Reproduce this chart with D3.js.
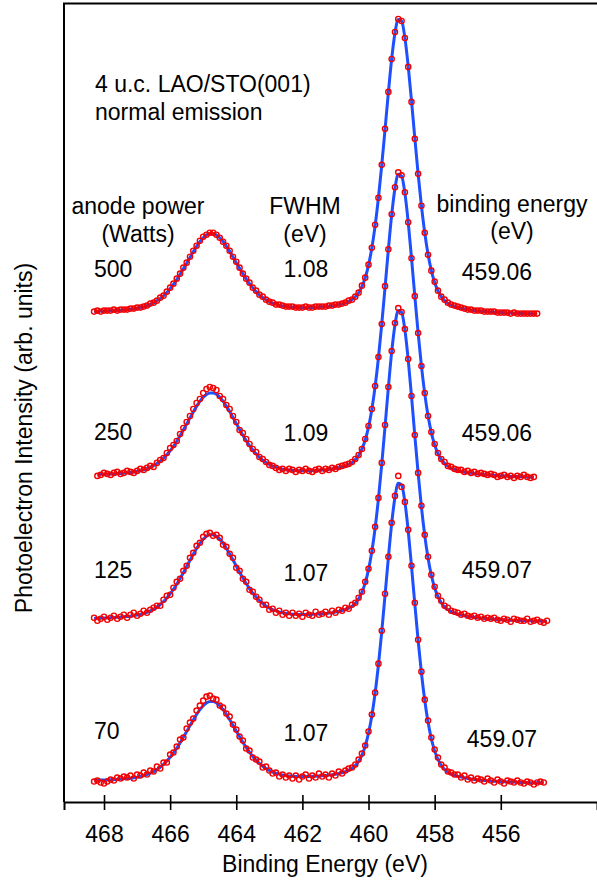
<!DOCTYPE html>
<html>
<head>
<meta charset="utf-8">
<title>Ti 2p core level vs anode power</title>
<script src="https://cdn.jsdelivr.net/npm/d3@7"></script>
<style>
  html, body { margin: 0; padding: 0; background: #fff; }
  svg { display: block; }
  text { font-family: "Liberation Sans", Arial, Helvetica, sans-serif; fill: #000; }
</style>
</head>
<body>
<svg id="chart" width="597" height="884"></svg>
<script>
// Ti 2p spectra of 4 u.c. LaAlO3 on SrTiO3(001), normal emission,
// recorded at four X-ray anode powers. Intensities in arbitrary units,
// sampled every 0.1 eV starting from startEnergy.

const anodePower    = ["500", "250", "125", "70"];
const fwhmValues    = ["1.08", "1.09", "1.07", "1.07"];
const bindingEnergy = ["459.06", "459.06", "459.07", "459.07"];
const startEnergy   = [468.3, 468.2, 468.3, 468.3];
const energyStep    = 0.1;
// vertical stacking offset of each spectrum (arb. units)
const stackOffset   = [487, 323.5, 179.5, 17.5];

const xTickValues = [468, 466, 464, 462, 460, 458, 456];

// measured intensities
const counts500 = [
  4,5,4,5,5,5,6,5,6,6,
  6,7,7,8,8,9,10,12,13,15,
  18,20,24,28,32,37,42,48,53,59,
  65,70,75,79,81,83,83,81,78,74,
  70,65,59,54,48,42,37,33,28,25,
  21,19,16,14,13,11,11,10,9,9,
  9,8,8,8,9,8,8,9,9,9,
  9,10,10,11,11,12,13,15,16,19,
  23,30,38,51,68,91,118,151,187,224,
  257,284,297,295,278,249,214,177,142,110,
  83,61,45,34,25,19,16,13,11,10,
  9,8,7,6,6,5,5,5,4,4,
  4,4,3,3,3,3,2,3,2,2,
  2,2,2,2,2
];
const counts250 = [
  3,4,6,5,4,6,7,5,6,8,
  7,6,8,10,9,11,13,12,16,19,
  21,26,31,34,38,45,51,57,63,70,
  76,80,86,90,92,91,89,83,80,74,
  70,63,57,49,46,40,35,30,27,22,
  20,17,14,13,11,9,10,8,10,9,
  7,9,8,10,8,7,9,10,8,10,
  9,11,10,12,13,14,15,17,20,24,
  30,40,53,70,93,122,155,193,230,265,
  292,307,304,287,257,221,183,146,113,86,
  63,47,35,26,20,17,13,12,10,9,
  9,7,8,6,7,5,6,5,4,5,
  4,2,3,4,2,3,1,3,2,4,
  2,1,2
];
const counts125 = [
  5,2,4,6,3,5,7,4,6,8,
  5,8,10,7,9,12,10,13,15,17,
  17,23,27,28,35,41,44,52,57,65,
  70,77,80,86,89,90,87,88,85,78,
  76,69,65,55,52,44,41,33,31,26,
  23,18,18,13,14,10,12,8,10,7,
  10,7,9,6,10,8,7,11,8,9,
  11,8,12,10,13,12,15,14,18,20,
  25,31,41,54,72,96,125,160,198,236,
  272,300,315,311,294,264,227,188,150,117,
  88,66,48,36,27,22,17,15,12,11,
  10,8,9,7,6,7,5,6,4,5,
  4,5,3,2,4,3,1,4,3,2,
  2,4,1,2,3,1,0,2
];
const counts70 = [
  3,4,2,1,3,5,4,7,6,8,
  7,9,6,10,9,12,10,14,13,18,
  16,22,22,30,32,38,45,47,56,62,
  66,74,79,84,88,89,86,85,79,77,
  71,68,60,55,48,44,36,34,27,25,
  23,17,18,14,11,12,8,10,7,9,
  6,9,5,8,10,6,9,7,11,8,
  10,7,11,9,13,11,14,16,17,20,
  25,31,39,53,70,92,121,154,191,228,
  262,289,309,298,283,255,219,182,145,113,
  85,64,47,35,27,20,17,13,12,10,
  10,7,9,5,7,4,6,5,3,6,
  4,2,5,3,1,4,3,2,4,2,
  1,3,2,0,2,3,2
];

// fitted curves (two Voigt components plus background), same sampling
const fit500 = [
  4.3,4.4,4.5,4.6,4.7,4.9,5.0,5.2,5.4,5.6,
  5.9,6.3,6.7,7.3,7.9,8.8,9.9,11.2,12.8,14.8,
  17.1,19.9,23.2,27.0,31.3,36.1,41.3,46.8,52.5,58.3,
  64.0,69.3,74.0,77.9,80.7,82.1,82.1,80.8,78.0,74.2,
  69.6,64.3,58.6,52.9,47.3,41.8,36.7,32.0,27.8,24.1,
  20.8,18.1,15.8,13.9,12.4,11.2,10.3,9.5,9.0,8.6,
  8.3,8.1,8.0,7.9,8.0,8.0,8.1,8.3,8.4,8.7,
  9.0,9.3,9.8,10.3,10.9,11.7,12.7,14.1,16.0,18.8,
  22.9,29.1,37.9,50.6,67.7,90.1,118.0,150.6,186.6,223.3,
  257.0,283.0,296.6,294.9,278.1,249.9,214.9,177.8,142.0,109.9,
  83.0,61.4,45.1,33.2,24.8,19.0,15.1,12.4,10.5,9.2,
  8.2,7.3,6.6,6.1,5.5,5.1,4.7,4.4,4.1,3.8,
  3.6,3.3,3.1,3.0,2.8,2.6,2.5,2.3,2.2,2.1,
  2.0,1.9,1.8,1.7,1.7
];
const fit250 = [
  4.5,4.6,4.7,4.8,5.0,5.1,5.3,5.5,5.8,6.1,
  6.4,6.9,7.5,8.2,9.1,10.2,11.6,13.3,15.4,17.8,
  20.8,24.3,28.2,32.7,37.7,43.2,49.0,55.0,61.1,67.0,
  72.6,77.6,81.7,84.6,86.1,86.1,84.7,81.8,77.8,72.9,
  67.4,61.4,55.4,49.5,43.7,38.4,33.4,29.0,25.1,21.7,
  18.8,16.5,14.5,12.9,11.6,10.6,9.8,9.2,8.8,8.5,
  8.3,8.2,8.1,8.1,8.1,8.3,8.4,8.6,8.8,9.1,
  9.5,9.9,10.4,11.1,11.9,12.9,14.3,16.2,19.3,23.5,
  29.9,39.0,51.9,69.6,92.7,121.3,154.9,191.9,229.7,264.3,
  291.1,305.1,303.3,286.1,257.1,221.1,182.9,146.1,113.1,85.4,
  63.2,46.4,34.1,25.5,19.5,15.5,12.8,10.9,9.4,8.4,
  7.4,6.7,6.1,5.6,5.2,4.8,4.5,4.1,3.9,3.6,
  3.4,3.2,3.0,2.8,2.7,2.5,2.4,2.3,2.2,2.1,
  2.0,1.9,1.8
];
const fit125 = [
  4.4,4.5,4.6,4.7,4.9,5.0,5.2,5.4,5.6,5.9,
  6.2,6.5,7.0,7.6,8.3,9.2,10.4,11.8,13.5,15.7,
  18.2,21.2,24.8,28.9,33.5,38.6,44.2,50.1,56.3,62.5,
  68.6,74.3,79.4,83.6,86.5,88.1,88.1,86.6,83.7,79.6,
  74.6,68.9,62.9,56.7,50.6,44.7,39.2,34.2,29.7,25.7,
  22.2,19.2,16.8,14.7,13.1,11.8,10.8,10.0,9.4,8.9,
  8.6,8.4,8.3,8.2,8.3,8.3,8.4,8.6,8.7,9.0,
  9.3,9.7,10.1,10.7,11.3,12.1,13.2,14.7,16.6,19.6,
  24.0,30.5,39.9,53.2,71.3,94.9,124.3,158.8,196.7,235.4,
  270.9,298.3,312.7,310.8,293.2,263.4,226.6,187.4,149.7,115.9,
  87.5,64.8,47.5,35.0,26.1,20.0,15.9,13.1,11.1,9.6,
  8.5,7.6,6.9,6.3,5.8,5.4,4.9,4.6,4.3,4.0,
  3.7,3.5,3.3,3.1,2.9,2.7,2.6,2.4,2.3,2.2,
  2.1,2.0,1.9,1.8,1.8,1.7,1.6,1.6
];
const fit70 = [
  4.3,4.4,4.5,4.6,4.7,4.9,5.0,5.2,5.4,5.7,
  6.0,6.3,6.8,7.3,8.0,8.9,9.9,11.3,12.9,14.9,
  17.3,20.1,23.5,27.3,31.7,36.5,41.7,47.3,53.1,59.0,
  64.7,70.1,74.9,78.8,81.6,83.1,83.1,81.7,79.0,75.1,
  70.4,65.0,59.3,53.5,47.8,42.3,37.1,32.4,28.1,24.3,
  21.1,18.3,16.0,14.1,12.5,11.3,10.4,9.6,9.0,8.6,
  8.3,8.1,8.0,8.0,8.0,8.0,8.2,8.3,8.5,8.7,
  9.0,9.4,9.8,10.3,11.0,11.8,12.8,14.2,16.1,19.1,
  23.3,29.5,38.5,51.4,68.8,91.6,119.9,153.1,189.7,227.0,
  261.3,287.7,301.6,299.8,282.8,254.1,218.5,180.8,144.4,111.8,
  84.4,62.5,45.8,33.7,25.2,19.3,15.3,12.6,10.7,9.2,
  8.2,7.4,6.7,6.1,5.6,5.1,4.7,4.4,4.1,3.8,
  3.6,3.3,3.2,3.0,2.8,2.6,2.5,2.4,2.2,2.1,
  2.0,1.9,1.8,1.8,1.7,1.6,1.6
];

const countSeries = [counts500, counts250, counts125, counts70];
const fitSeries   = [fit500, fit250, fit125, fit70];

// ---- layout ----
const plot = { left: 64, right: 597, top: 3, bottom: 802 };
const fontSize = 23;
const dataColor = "#f50000";
const fitColor = "#1e50ff";

const svg = d3.select("#chart");

const x = d3.scaleLinear().domain([469.21, 453.09]).range([plot.left, plot.right]);
const y = d3.scaleLinear().domain([0, 800]).range([plot.bottom, plot.top]);

const spectra = anodePower.map((p, k) => ({
  power: p,
  fwhm: fwhmValues[k],
  be: bindingEnergy[k],
  offset: stackOffset[k],
  points: countSeries[k].map((v, i) => ({ e: startEnergy[k] - i * energyStep, v })),
  fit: fitSeries[k].map((v, i) => ({ e: startEnergy[k] - i * energyStep, v }))
}));

// ---- spectra: fitted line with open-circle data on top ----
const specG = svg.append("g");
spectra.forEach(s => {
  const line = d3.line()
    .x(d => x(d.e))
    .y(d => y(d.v + s.offset))
    .curve(d3.curveMonotoneX);

  specG.append("path")
    .datum(s.fit)
    .attr("d", line)
    .attr("fill", "none")
    .attr("stroke", fitColor)
    .attr("stroke-width", 3)
    .attr("stroke-linejoin", "round");

  specG.append("g")
    .selectAll("circle")
    .data(s.points)
    .join("circle")
    .attr("cx", d => x(d.e))
    .attr("cy", d => y(d.v + s.offset))
    .attr("r", 2.6)
    .attr("fill", "none")
    .attr("stroke", dataColor)
    .attr("stroke-width", 1.4);
});

// ---- frame and axis ----
svg.append("line")
  .attr("x1", plot.left).attr("x2", plot.left)
  .attr("y1", plot.top + 0.5).attr("y2", plot.bottom)
  .attr("stroke", "#000").attr("stroke-width", 2);
svg.append("line")
  .attr("x1", plot.left - 1).attr("x2", plot.right)
  .attr("y1", plot.top + 0.5).attr("y2", plot.top + 0.5)
  .attr("stroke", "#000").attr("stroke-width", 2);

const axisG = svg.append("g")
  .attr("transform", `translate(0,${plot.bottom})`)
  .call(d3.axisBottom(x)
    .tickValues(xTickValues)
    .tickFormat(d3.format("d"))
    .tickSizeOuter(0)
    .tickSize(8));
axisG.select(".domain").attr("stroke", "#000").attr("stroke-width", 2);
axisG.selectAll(".tick line")
  .attr("y1", -7).attr("y2", 8)
  .attr("stroke", "#000").attr("stroke-width", 1.6);
axisG.selectAll(".tick text")
  .attr("y", 40).attr("dy", null)
  .attr("font-size", fontSize)
  .attr("font-family", "'Liberation Sans', Arial, Helvetica, sans-serif")
  .attr("fill", "#000");

svg.append("text")
  .attr("x", 325).attr("y", 872)
  .attr("text-anchor", "middle")
  .attr("font-size", fontSize)
  .text("Binding Energy (eV)");

svg.append("text")
  .attr("transform", "translate(32,438) rotate(-90)")
  .attr("text-anchor", "middle")
  .attr("font-size", fontSize)
  .text("Photoelectron Intensity (arb. units)");

// ---- annotations ----
const notes = svg.append("g").attr("font-size", fontSize);
notes.append("text").attr("x", 95).attr("y", 92).text("4 u.c. LAO/STO(001)");
notes.append("text").attr("x", 95).attr("y", 120).text("normal emission");

const heads = [
  { t: "anode power",    cx: 138, by: 214 },
  { t: "(Watts)",        cx: 138, by: 242 },
  { t: "FWHM",           cx: 305, by: 214 },
  { t: "(eV)",           cx: 305, by: 242 },
  { t: "binding energy", cx: 512, by: 212 },
  { t: "(eV)",           cx: 512, by: 239 }
];
notes.selectAll("text.head")
  .data(heads)
  .join("text")
  .attr("class", "head")
  .attr("x", d => d.cx).attr("y", d => d.by)
  .attr("text-anchor", "middle")
  .text(d => d.t);

// per-row label placement
const rowLayout = [
  { powerY: 277, fwhmY: 277, beY: 280, beX: 497 },
  { powerY: 440, fwhmY: 441, beY: 441, beX: 497 },
  { powerY: 578, fwhmY: 581, beY: 578, beX: 497 },
  { powerY: 739, fwhmY: 741, beY: 747, beX: 502 }
];
spectra.forEach((s, k) => {
  const r = rowLayout[k];
  notes.append("text").attr("x", 94).attr("y", r.powerY).text(s.power);
  notes.append("text").attr("x", 306).attr("y", r.fwhmY)
    .attr("text-anchor", "middle").text(s.fwhm);
  notes.append("text").attr("x", r.beX).attr("y", r.beY)
    .attr("text-anchor", "middle").text(s.be);
});
</script>
</body>
</html>
